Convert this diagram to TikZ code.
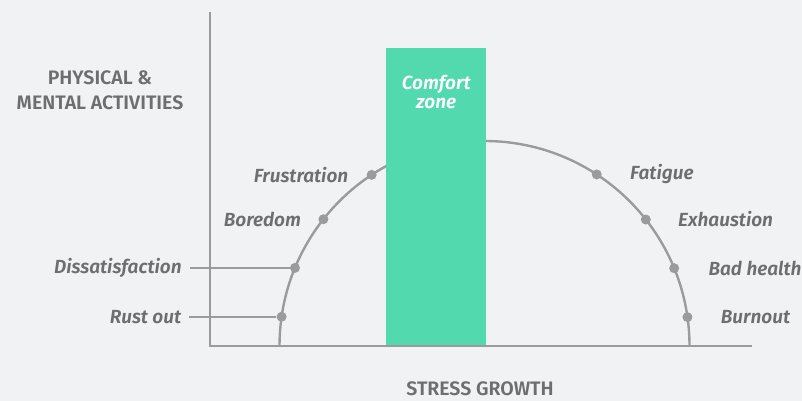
\documentclass[tikz,border=0pt]{standalone}
\usepackage{fontspec}
\setmainfont{Fira Sans}[BoldFont={Fira Sans SemiBold}, BoldItalicFont={Fira Sans SemiBold Italic}]
\usetikzlibrary{positioning}

\definecolor{bgcol}{HTML}{F1F2F4}
\definecolor{linecol}{HTML}{9B9B9D}
\definecolor{textcol}{HTML}{6E6E70}
\definecolor{zonecol}{HTML}{52D9AE}

\begin{document}
\begin{tikzpicture}[x=1pt, y=1pt,
  stage/.style={font=\fontsize{19}{22}\selectfont\bfseries\itshape, text=textcol, inner sep=0pt},
  axislabel/.style={font=\fontsize{19.5}{25}\selectfont\bfseries, text=textcol, align=center},
  dot/.style={circle, fill=linecol, inner sep=0pt, minimum size=10pt},
  leader/.style={linecol, line width=2pt}]

  % Canvas
  \fill[bgcol] (0,0) rectangle (802,401);
  \useasboundingbox (0,0) rectangle (802,401);

  % Stress curve: half circle around c
  \coordinate (c) at (484.5,55);
  \draw[linecol, line width=2.4pt] (279.5,55) arc[start angle=180, end angle=0, radius=205];

  % Comfort zone band (covers the top of the curve)
  \node[fill=zonecol, minimum width=100pt, minimum height=298pt, anchor=south west, inner sep=0pt] (zone) at (386,55) {};
  \node[font=\fontsize{19}{18.5}\selectfont\bfseries\itshape, text=white, align=center, anchor=north]
    (zonetext) at ([yshift=-24pt]zone.north) {Comfort\\zone};

  % Axes
  \coordinate (origin) at (210,55);
  \coordinate (ytop) at (210,389);
  \coordinate (xend) at (752,55);
  \draw[linecol, line width=2pt] (ytop) -- (origin) -- (xend);

  % Points on the curve
  \foreach \name/\ang in {rust/171.8, dissat/157.6, boredom/141.8, frustr/123.4,
                          fatigue/56.8, exhaust/38.1, badhealth/22.3, burnout/8.1}
    \node[dot] (\name) at ([shift={(\ang:205)}]c) {};

  % Labels, left side
  \node[stage, left=18pt of frustr] (l-frustr) {Frustration};
  \node[stage, left=17pt of boredom] (l-boredom) {Boredom};
  \node[stage, left=108pt of dissat] (l-dissat) {Dissatisfaction};
  \node[stage, left=95pt of rust] (l-rust) {Rust out};
  \draw[leader] ([xshift=8pt]l-dissat.east) -- (dissat);
  \draw[leader] ([xshift=8pt]l-rust.east) -- (rust);

  % Labels, right side
  \node[stage, right=28pt of fatigue] (l-fatigue) {Fatigue};
  \node[stage, right=27pt of exhaust] (l-exhaust) {Exhaustion};
  \node[stage, right=29pt of badhealth] (l-badhealth) {Bad health};
  \node[stage, right=28pt of burnout] (l-burnout) {Burnout};

  % Axis titles
  \node[axislabel] (ylabel) at (100,311) {PHYSICAL \&\\MENTAL ACTIVITIES};
  \node[axislabel] (xlabel) at (480,12) {STRESS GROWTH};
\end{tikzpicture}
\end{document}
